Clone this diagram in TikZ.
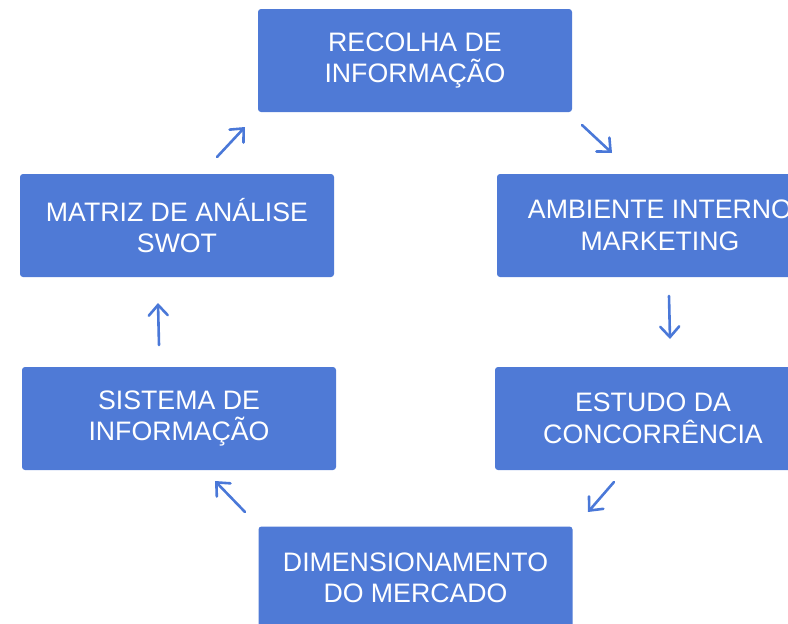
\documentclass[tikz,border=0pt]{standalone}
\usepackage{fontspec}
\setmainfont{Liberation Sans}
\usetikzlibrary{arrows.meta}
\definecolor{boxblue}{RGB}{79,122,214}
\definecolor{arrowblue}{RGB}{74,120,216}

\tikzset{
  stagebox/.style={fill=boxblue, rounded corners=3pt, text=white,
    minimum width=314pt, minimum height=103pt, align=center,
    font=\fontsize{26.7}{31.5}\selectfont},
  flow/.style={draw=arrowblue, line width=2.6pt, line cap=round,
    -{Straight Barb[length=10.5pt,width=19pt,line cap=round]}}
}

\begin{document}
\begin{tikzpicture}[x=1pt, y=-1pt]
  \useasboundingbox (0,0) rectangle (788,624);
  \clip (0,0) rectangle (788,624);

  \node (recolha) [stagebox] at (415,60.5) {RECOLHA DE\\INFORMAÇÃO};
  \node (ambiente) [stagebox, minimum width=326pt] at (660,225.5) {AMBIENTE INTERNO\\MARKETING};
  \node (estudo) [stagebox, minimum width=316pt] at (653,418.5) {ESTUDO DA\\CONCORRÊNCIA};
  \node (dimens) [stagebox] at (415.5,578) {DIMENSIONAMENTO\\DO MERCADO};
  \node (sistema) [stagebox] at (179,418.5) {SISTEMA DE\\INFORMAÇÃO};
  \node (matriz) [stagebox] at (177,225.5) {MATRIZ DE ANÁLISE\\SWOT};

  % arrow ends between the boxes
  \coordinate (r-a1) at (582,125);  \coordinate (r-a2) at (612,153);
  \coordinate (a-e1) at (669,296);  \coordinate (a-e2) at (670,339);
  \coordinate (e-d1) at (614,482);  \coordinate (e-d2) at (588,512);
  \coordinate (d-s1) at (245,512);  \coordinate (d-s2) at (215,481);
  \coordinate (s-m1) at (159,345);  \coordinate (s-m2) at (158,303);
  \coordinate (m-r1) at (217,157);  \coordinate (m-r2) at (245,127);

  \draw [flow] (r-a1) -- (r-a2);
  \draw [flow] (a-e1) -- (a-e2);
  \draw [flow] (e-d1) -- (e-d2);
  \draw [flow] (d-s1) -- (d-s2);
  \draw [flow] (s-m1) -- (s-m2);
  \draw [flow] (m-r1) -- (m-r2);
\end{tikzpicture}
\end{document}
